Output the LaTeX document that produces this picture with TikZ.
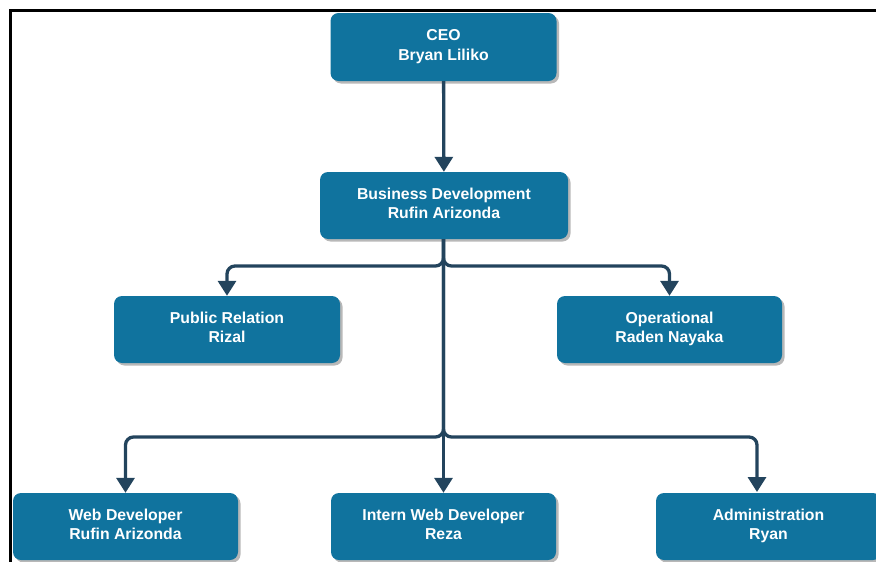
\documentclass[tikz,border=0pt]{standalone}
\usepackage{fontspec}
\setmainfont{Liberation Sans}
\usetikzlibrary{arrows.meta,shadows}
\definecolor{boxblue}{HTML}{10739E}
\definecolor{linkblue}{HTML}{23445D}
\newcommand{\topstrut}{\rule{0pt}{20pt}}
\newcommand{\botstrut}{\rule[-4pt]{0pt}{4pt}}
\begin{document}
\begin{tikzpicture}[x=1pt,y=-1pt]
\tikzstyle{box}=[draw=none,fill=boxblue,rounded corners=8pt,minimum width=225pt,minimum height=67pt,
  text=white,align=center,font=\fontsize{15.8}{19.3}\selectfont\bfseries,
  execute at begin node=\topstrut,execute at end node=\botstrut,
  drop shadow={shadow xshift=2.5pt,shadow yshift=-2.5pt,fill=black!28,opacity=1}];
\tikzstyle{link}=[draw=linkblue,line width=3.3pt,rounded corners=8pt,-{Triangle[width=18pt,length=15pt]}];
\useasboundingbox (0,0) rectangle (876,562);
\draw[line width=3pt] (10.5,562) -- (10.5,10.5) -- (876,10.5);
\path (443.5,47) node[box,minimum width=226pt,minimum height=68pt] (ceo) {CEO\\Bryan Liliko};
\path (444,205.5) node[box,minimum width=248pt] (bd) {Business Development\\Rufin Arizonda};
\path (227,329.5) node[box,minimum width=226pt] (pr) {Public Relation\\Rizal};
\path (669.5,329.5) node[box] (op) {Operational\\Raden Nayaka};
\path (125.5,526.5) node[box] (web) {Web Developer\\Rufin Arizonda};
\path (443.5,526.5) node[box] (intern) {Intern Web Developer\\Reza};
\path (768.5,526.5) node[box] (adm) {Administration\\Ryan};
\coordinate (j1) at (443.5,266);
\coordinate (j2) at (443.5,437);
\coordinate (a1) at (757,492);
\draw[link] (ceo) -- (bd);
\draw[link] (bd.south -| j1) -- (j1) -| (pr.north);
\draw[link] (bd.south -| j1) -- (j1) -| (op.north);
\draw[link] (bd.south -| j1) -- (j2) -| (web.north);
\draw[link] (bd.south -| j1) -- (j2) -| (a1);
\draw[link] (bd.south -| j1) -- (intern.north);
\end{tikzpicture}
\end{document}
